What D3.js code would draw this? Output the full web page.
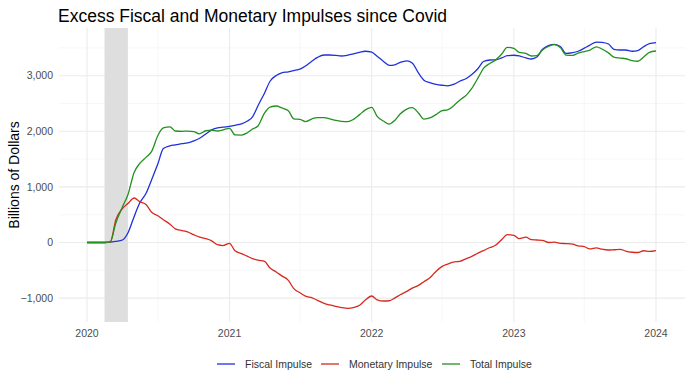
<!DOCTYPE html>
<html><head><meta charset="utf-8">
<script src="https://cdn.jsdelivr.net/npm/d3@7"></script>
<style>body{margin:0;background:#fff;} svg{display:block;font-family:"Liberation Sans",Arial,sans-serif;}</style>
</head><body>
<svg id="c" width="690" height="380"></svg>
<script>
// semi-monthly dates: 1st and 15th of each month, Jan 2020 .. Jan 2024
const dates = [];
for (let y = 2020; y <= 2024; y++) for (let m = 0; m < 12; m++) {
  if (y === 2024 && m > 0) break;
  dates.push(new Date(y, m, 1));
  if (!(y === 2024)) dates.push(new Date(y, m, 15));
}
const fiscal = [0,0,0,0,5,20,45,170,465,705,890,1130,1415,1690,1740,1755,1778,1790,1828,1870,1950,2020,2060,2075,
 2090,2108,2135,2180,2260,2460,2690,2900,3005,3050,3070,3092,3120,3175,3265,3330,3372,3372,3365,3354,3370,3392,3420,3440,
 3425,3350,3252,3185,3195,3240,3268,3230,3050,2920,2870,2845,2828,2818,2850,2900,2950,3020,3130,3255,3282,3285,3320,3360,
 3368,3355,3320,3300,3335,3470,3545,3565,3520,3400,3415,3440,3495,3550,3605,3600,3570,3475,3462,3462,3440,3450,3525,3575,3594];
const monetary = [0,0,0,0,10,410,610,700,800,735,680,545,480,410,330,245,215,190,140,100,70,35,-40,-55,
 -15,-150,-200,-245,-290,-318,-340,-460,-530,-600,-680,-830,-905,-965,-995,-1040,-1095,-1124,-1150,-1170,-1184,-1170,-1130,-1040,
 -962,-1030,-1052,-1048,-1000,-940,-880,-820,-770,-705,-625,-520,-430,-390,-348,-340,-290,-250,-190,-145,-90,-50,55,140,
 130,70,95,50,45,40,0,5,-15,-20,-30,-60,-75,-115,-95,-120,-135,-130,-122,-155,-175,-180,-148,-160,-145];
const total = [0,0,0,0,15,350,640,860,1260,1420,1535,1640,1925,2060,2080,2005,2000,2003,1995,1955,2010,2020,2005,2025,
 2054,1935,1933,1970,2040,2095,2330,2435,2455,2420,2370,2225,2215,2175,2225,2245,2245,2225,2195,2180,2175,2215,2300,2380,
 2430,2270,2180,2130,2195,2310,2400,2425,2330,2220,2245,2300,2372,2385,2470,2560,2650,2770,2960,3130,3225,3280,3390,3510,
 3490,3420,3400,3354,3360,3460,3530,3560,3500,3370,3365,3405,3435,3460,3520,3480,3410,3335,3318,3305,3270,3260,3340,3420,3444];
const seriesNames = ["Fiscal Impulse","Monetary Impulse","Total Impulse"];
const seriesColors = ["#2030dc","#d62a20","#22911f"];
const recession = [new Date(2020,1,15), new Date(2020,3,15)];
const yTicks = [-1000,0,1000,2000,3000];
const xTickYears = [2020,2021,2022,2023,2024];

const svg = d3.select("#c");
const M = {l:59, r:5, t:28, b:58};
const W = 690, H = 380;
const x = d3.scaleTime().domain([new Date(2020,0,1), new Date(2024,0,1)]).range([87, 656]);
const y = d3.scaleLinear().domain([0, 1000]).range([242.5, 186.9]);
const pL = 59, pR = 685, pT = 28, pB = 322;

const g = svg.append("g");
// minor grid
const minorX = [2020,2021,2022,2023].map(yy => new Date(yy,6,1));
g.selectAll(".mx").data(minorX).enter().append("line")
  .attr("x1", d=>x(d)).attr("x2", d=>x(d)).attr("y1", pT).attr("y2", pB)
  .attr("stroke","#f2f2f2").attr("stroke-width",0.6);
const minorY = [-500,500,1500,2500,3500];
g.selectAll(".my").data(minorY).enter().append("line")
  .attr("x1", pL).attr("x2", pR).attr("y1", d=>y(d)).attr("y2", d=>y(d))
  .attr("stroke","#f2f2f2").attr("stroke-width",0.6);
// major grid
g.selectAll(".gx").data(xTickYears).enter().append("line")
  .attr("x1", d=>x(new Date(d,0,1))).attr("x2", d=>x(new Date(d,0,1))).attr("y1", pT).attr("y2", pB)
  .attr("stroke","#ebebeb").attr("stroke-width",1.1);
g.selectAll(".gy").data(yTicks).enter().append("line")
  .attr("x1", pL).attr("x2", pR).attr("y1", d=>y(d)).attr("y2", d=>y(d))
  .attr("stroke","#ebebeb").attr("stroke-width",1.1);

// recession band
g.append("rect").attr("x", x(recession[0])).attr("width", x(recession[1]) - x(recession[0]))
  .attr("y", pT).attr("height", pB - pT).attr("fill", "#dedede");

// lines
const line = d3.line().x((d,i)=>x(dates[i])).y(d=>y(d)).curve(d3.curveMonotoneX);
[fiscal, monetary, total].forEach((s, k) => {
  g.append("path").datum(s).attr("d", line).attr("fill","none")
    .attr("stroke", seriesColors[k]).attr("stroke-width", 1.3).attr("stroke-linejoin","round");
});

// axes labels
const fmt = d3.format(",");
g.selectAll(".yl").data(yTicks).enter().append("text")
  .attr("x", 53).attr("y", d=>y(d)).attr("dy","0.35em").attr("text-anchor","end")
  .attr("font-size", 10.5).attr("fill","#4d4d4d").text(d=>fmt(d));
g.selectAll(".xl").data(xTickYears).enter().append("text")
  .attr("x", d=>x(new Date(d,0,1))).attr("y", 337).attr("text-anchor","middle")
  .attr("font-size", 10.5).attr("fill","#4d4d4d").text(d=>d);

// titles
svg.append("text").attr("x", 58).attr("y", 22).attr("font-size", 17.5).attr("fill","#000")
  .text("Excess Fiscal and Monetary Impulses since Covid");
svg.append("text").attr("transform","translate(19,175) rotate(-90)").attr("text-anchor","middle")
  .attr("font-size", 14).attr("fill","#000").text("Billions of Dollars");

// legend
const legX = [217, 321, 442];
seriesNames.forEach((n,k) => {
  svg.append("line").attr("x1", legX[k]).attr("x2", legX[k]+18).attr("y1", 364).attr("y2", 364)
    .attr("stroke", seriesColors[k]).attr("stroke-width", 1.3);
  svg.append("text").attr("x", legX[k]+28).attr("y", 364).attr("dy","0.35em")
    .attr("font-size", 10.5).attr("fill","#333").text(n);
});
</script>
</body></html>
